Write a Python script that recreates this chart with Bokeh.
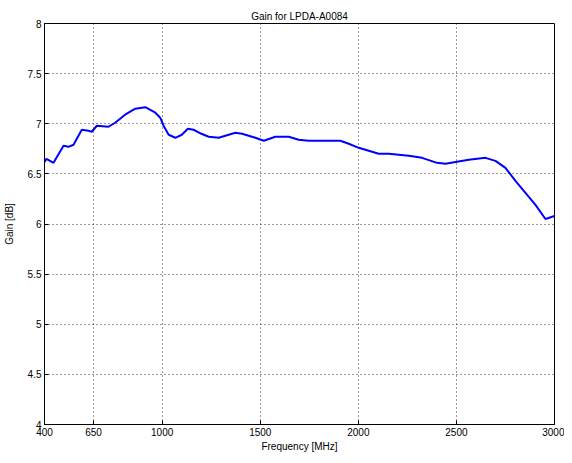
from bokeh.plotting import figure
from bokeh.models import FixedTicker, Range1d
from bokeh.embed import file_html
from bokeh.resources import INLINE

freq_mhz = [400, 410, 446, 497, 522, 548, 590, 624, 641, 667, 726, 760, 811, 863, 914,
            965, 990, 1007, 1033, 1067, 1100, 1131, 1160, 1200, 1237, 1288, 1339, 1373,
            1407, 1475, 1518, 1577, 1645, 1696, 1747, 1832, 1908, 1951, 2002, 2053, 2104,
            2155, 2206, 2257, 2325, 2401, 2444, 2503, 2563, 2648, 2699, 2750, 2801, 2852,
            2903, 2954, 3000]
gain_db = [6.62, 6.65, 6.61, 6.78, 6.77, 6.79, 6.94, 6.93, 6.92, 6.98, 6.97, 7.01, 7.09,
           7.15, 7.165, 7.11, 7.06, 6.98, 6.89, 6.86, 6.89, 6.95, 6.94, 6.90, 6.87, 6.86,
           6.89, 6.91, 6.90, 6.86, 6.83, 6.87, 6.87, 6.84, 6.83, 6.83, 6.83, 6.80, 6.76,
           6.73, 6.70, 6.70, 6.69, 6.68, 6.66, 6.61, 6.60, 6.62, 6.64, 6.66, 6.63, 6.56,
           6.43, 6.31, 6.19, 6.05, 6.08]

x_ticks = [400, 650, 1000, 1500, 2000, 2500, 3000]
y_ticks = [4, 4.5, 5, 5.5, 6, 6.5, 7, 7.5, 8]
y_tick_labels = ["4", "4.5", "5", "5.5", "6", "6.5", "7", "7.5", "8"]

title_text = "Gain for LPDA-A0084"
x_label = "Frequency [MHz]"
y_label = "Gain [dB]"

FONT = "Liberation Sans"
FS = "10px"

p = figure(frame_width=510, frame_height=401, output_backend="svg", toolbar_location=None,
           x_range=Range1d(400, 3000), y_range=Range1d(4, 8),
           min_border_left=42, min_border_top=23, min_border_right=10, min_border_bottom=30)
p.title.text = title_text
p.title.align = "center"
p.title.text_font = FONT
p.title.text_font_size = FS
p.title.text_font_style = "normal"
p.title.text_color = "black"
p.title.standoff = 3
p.title.offset = 0

p.background_fill_color = "white"
p.border_fill_color = "white"
p.outline_line_color = "black"
p.outline_line_width = 1

p.line(freq_mhz, gain_db, line_color="#0000FF", line_width=2)

xa = p.xaxis[0]
ya = p.yaxis[0]
for ax in [xa, ya]:
    ax.major_tick_in = 4
    ax.major_tick_out = 0
    ax.minor_tick_in = 0
    ax.minor_tick_out = 0
    ax.major_label_text_font = FONT
    ax.major_label_text_font_size = FS
    ax.major_label_text_color = "black"
    ax.axis_label_text_font = FONT
    ax.axis_label_text_font_size = FS
    ax.axis_label_text_font_style = "normal"
    ax.axis_label_text_color = "black"
    ax.axis_line_color = "black"
    ax.major_tick_line_color = "black"
    ax.major_label_standoff = 3

xa.ticker = FixedTicker(ticks=x_ticks)
xa.axis_label = x_label
xa.axis_label_standoff = 2
ya.ticker = FixedTicker(ticks=y_ticks)
ya.major_label_overrides = {t: s for t, s in zip(y_ticks, y_tick_labels)}
ya.axis_label = y_label
ya.axis_label_standoff = 10

p.xgrid.ticker = FixedTicker(ticks=x_ticks)
p.ygrid.ticker = FixedTicker(ticks=y_ticks)
for g in [p.xgrid[0], p.ygrid[0]]:
    g.grid_line_color = "#303030"
    g.grid_line_dash = "1 3"
    g.grid_line_width = 1

open("out.html", "w").write(file_html(p, INLINE))
